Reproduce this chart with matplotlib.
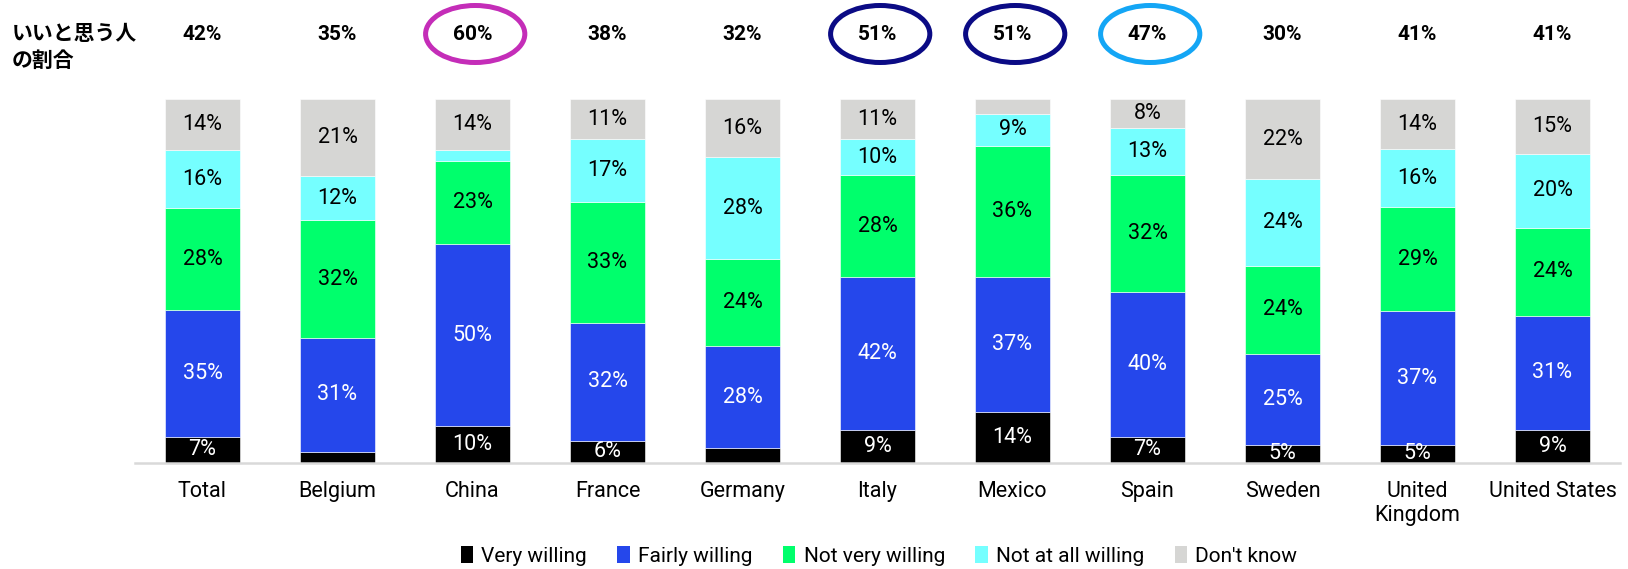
import matplotlib
matplotlib.use("Agg")
import matplotlib.pyplot as plt
import matplotlib.transforms as mtransforms
from matplotlib.patches import Ellipse, Patch
import numpy as np

plt.rcParams['font.family'] = ['Roboto', 'Noto Sans CJK JP', 'DejaVu Sans']

categories = ["Total", "Belgium", "China", "France", "Germany", "Italy",
              "Mexico", "Spain", "Sweden", "United\nKingdom", "United States"]
series_names = ["Very willing", "Fairly willing", "Not very willing",
                "Not at all willing", "Don't know"]
very_willing = [7, 3, 10, 6, 4, 9, 14, 7, 5, 5, 9]
fairly_willing = [35, 31, 50, 32, 28, 42, 37, 40, 25, 37, 31]
not_very_willing = [28, 32, 23, 33, 24, 28, 36, 32, 24, 29, 24]
not_at_all_willing = [16, 12, 3, 17, 28, 10, 9, 13, 24, 16, 20]
dont_know = [14, 21, 14, 11, 16, 11, 4, 8, 22, 14, 15]
positive_share = ["42%", "35%", "60%", "38%", "32%", "51%", "51%", "47%", "30%", "41%", "41%"]
highlight = {2: "#C42DB8", 5: "#0B0B85", 6: "#0B0B85", 7: "#14A6F5"}
header_label = "いいと思う人\nの割合"

colors = ["#000000", "#2547EB", "#00FF6C", "#75FFFF", "#D6D6D4"]
text_colors = ["white", "white", "black", "black", "black"]

W, H = 1628, 569
fig = plt.figure(figsize=(W / 100, H / 100), dpi=100)
ax_left, ax_right = 135 / W, 1620 / W
ax_bottom = (H - 462.7) / H
ax_top = (H - 99) / H
ax = fig.add_axes([ax_left, ax_bottom, ax_right - ax_left, ax_top - ax_bottom])

data = np.array([very_willing, fairly_willing, not_very_willing,
                 not_at_all_willing, dont_know], dtype=float)
totals = data.sum(axis=0)
shares = data / totals * 100
x = np.arange(len(categories))
bottom = np.zeros(len(categories))
for i, name in enumerate(series_names):
    ax.bar(x, shares[i], 0.556, bottom=bottom, color=colors[i], label=name,
           edgecolor="white", linewidth=0.4, zorder=2)
    for j in range(len(categories)):
        v = data[i, j]
        if v >= 5:
            ax.text(x[j], bottom[j] + shares[i, j] / 2, f"{int(v)}%",
                    ha="center", va="center", fontsize=15.5,
                    color=text_colors[i], zorder=3)
    bottom += shares[i]

ax.set_xlim(-0.5, len(categories) - 0.5)
ax.set_ylim(0, 100)
ax.set_xticks(x)
ax.set_xticklabels(categories, fontsize=15.5, linespacing=1.2)
ax.tick_params(axis="x", length=0, pad=13)
ax.set_yticks([])
for s in ["top", "left", "right"]:
    ax.spines[s].set_visible(False)
ax.spines["bottom"].set_color("#D9D9D9")
ax.spines["bottom"].set_linewidth(1.8)

blend = mtransforms.blended_transform_factory(ax.transData, fig.transFigure)
y_top = 1 - 34 / H
for j, t in enumerate(positive_share):
    ax.text(x[j], y_top, t, transform=blend, ha="center", va="center",
            fontsize=15, fontweight="bold", color="black", clip_on=False)
    if j in highlight:
        e = Ellipse((x[j] + 0.02, y_top), 0.735, 57 / H, transform=blend,
                    fill=False, edgecolor=highlight[j], linewidth=3.6,
                    clip_on=False)
        ax.add_patch(e)

fig.text(12 / W, 1 - 47 / H, header_label, ha="left", va="center",
         fontsize=15, fontweight="bold", linespacing=1.3,
         family=["Noto Sans CJK JP", "DejaVu Sans"])

handles = [Patch(facecolor=c, edgecolor="none") for c in colors]
fig.legend(handles, series_names, loc="center", bbox_to_anchor=(879 / W, 1 - 556 / H),
           ncol=5, frameon=False, fontsize=15, handlelength=0.6, handleheight=0.9,
           handletextpad=0.4, columnspacing=1.45)

fig.savefig("out.png", dpi=100)
